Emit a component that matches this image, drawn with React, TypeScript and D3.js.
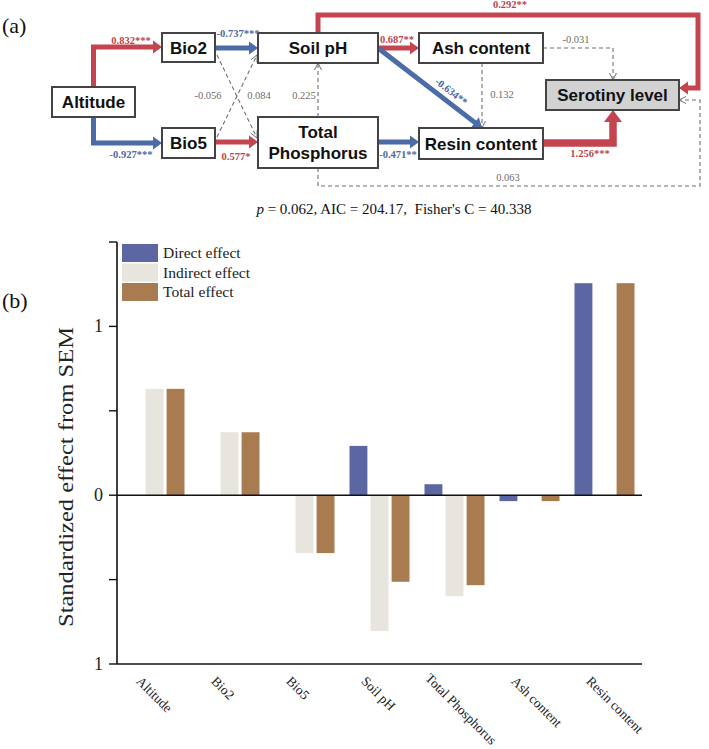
import React from 'react';
import * as d3 from 'd3';

// ---- panel (b) data ----
const categories = ['Altitude', 'Bio2', 'Bio5', 'Soil pH', 'Total Phosphorus', 'Ash content', 'Resin content'];
const directEffect = [0, 0, 0, 0.292, 0.065, -0.035, 1.256];
const indirectEffect = [0.63, 0.373, -0.343, -0.805, -0.598, 0, 0];
const totalEffect = [0.63, 0.373, -0.343, -0.513, -0.533, -0.035, 1.256];
const seriesNames = ['Direct effect', 'Indirect effect', 'Total effect'];
const yTickValues = [-1, -0.5, 0, 0.5, 1, 1.5];
const yTickLabels = ['1', '', '0', '', '1', ''];

// ---- panel (a) data: SEM paths ----
const pathFrom = ['Altitude', 'Altitude', 'Bio2', 'Bio5', 'Bio2', 'Bio5', 'Total Phosphorus', 'Total Phosphorus', 'Soil pH', 'Soil pH', 'Soil pH', 'Ash content', 'Ash content', 'Total Phosphorus', 'Resin content'];
const pathTo = ['Bio2', 'Bio5', 'Soil pH', 'Total Phosphorus', 'Total Phosphorus', 'Soil pH', 'Soil pH', 'Serotiny level', 'Serotiny level', 'Ash content', 'Resin content', 'Resin content', 'Serotiny level', 'Resin content', 'Serotiny level'];
const pathCoef = [0.832, -0.927, -0.737, 0.577, -0.056, 0.084, 0.225, 0.063, 0.292, 0.687, -0.634, 0.132, -0.031, -0.471, 1.256];
const pathSig = ['***', '***', '***', '*', '', '', '', '', '**', '**', '**', '', '', '**', '***'];

const RED = '#c4454f';
const BLUE = '#4b6ca7';
const GRAY = '#6e6e6e';
const RED_TXT = '#b9464f';
const BLUE_TXT = '#4d6aa0';
const seriesColors = ['#5b66a3', '#e8e4de', '#a97b50'];
const SERIF = 'Liberation Serif, Times New Roman, serif';

// node layout for the path diagram
const NODES: Record<string, { x: number; y: number; w: number; h: number; lines: string[]; fill?: string }> = {
  'Altitude': { x: 52, y: 87, w: 83, h: 30, lines: ['Altitude'] },
  'Bio2': { x: 162, y: 33, w: 53, h: 29, lines: ['Bio2'] },
  'Bio5': { x: 162, y: 128, w: 53, h: 30, lines: ['Bio5'] },
  'Soil pH': { x: 258, y: 33, w: 120, h: 30, lines: ['Soil pH'] },
  'Total Phosphorus': { x: 258, y: 117, w: 120, h: 51, lines: ['Total', 'Phosphorus'] },
  'Ash content': { x: 419, y: 33, w: 124, h: 30, lines: ['Ash content'] },
  'Resin content': { x: 419, y: 128, w: 124, h: 31, lines: ['Resin content'] },
  'Serotiny level': { x: 546, y: 80, w: 133, h: 30, lines: ['Serotiny level'], fill: '#d2d2d2' },
};

type P = [number, number];

const route = (from: string, to: string): P[] => {
  const a = NODES[from], b = NODES[to];
  const acx = a.x + a.w / 2;
  switch (`${from}>${to}`) {
    case 'Altitude>Bio2': return [[acx, a.y], [acx, 47], [b.x, 47]];
    case 'Altitude>Bio5': return [[acx, a.y + a.h], [acx, 143], [b.x, 143]];
    case 'Bio2>Soil pH': return [[a.x + a.w, 48], [b.x, 48]];
    case 'Bio5>Total Phosphorus': return [[a.x + a.w, 142], [b.x, 142]];
    case 'Bio2>Total Phosphorus': return [[a.x + a.w + 2, a.y + a.h - 7], [b.x - 1, 138]];
    case 'Bio5>Soil pH': return [[a.x + a.w + 2, a.y + 9], [b.x - 1, b.y + b.h - 8]];
    case 'Total Phosphorus>Soil pH': return [[318, a.y], [318, b.y + b.h]];
    case 'Total Phosphorus>Serotiny level': return [[318, a.y + a.h], [318, 186], [700, 186], [700, 100], [b.x + b.w, 100]];
    case 'Soil pH>Serotiny level': return [[318, a.y], [318, 15], [698, 15], [698, 88], [b.x + b.w, 88]];
    case 'Soil pH>Ash content': return [[a.x + a.w, 48], [b.x, 48]];
    case 'Soil pH>Resin content': return [[a.x + a.w, 48], [482, b.y]];
    case 'Ash content>Resin content': return [[482, a.y + a.h], [482, b.y]];
    case 'Ash content>Serotiny level': return [[a.x + a.w, 48], [613, 48], [613, b.y]];
    case 'Total Phosphorus>Resin content': return [[a.x + a.w, 142], [b.x, 142]];
    case 'Resin content>Serotiny level': return [[a.x + a.w, 143], [613, 143], [613, b.y + b.h]];
    default: return [];
  }
};

// label placement: [x, y, rotation]
const LABEL_POS: Record<string, [number, number, number]> = {
  'Altitude>Bio2': [131, 44, 0],
  'Altitude>Bio5': [131, 158, 0],
  'Bio2>Soil pH': [238, 37, 0],
  'Bio5>Total Phosphorus': [236, 160, 0],
  'Bio2>Total Phosphorus': [208, 99, 0],
  'Bio5>Soil pH': [259, 99, 0],
  'Total Phosphorus>Soil pH': [304, 99, 0],
  'Total Phosphorus>Serotiny level': [508, 181, 0],
  'Soil pH>Serotiny level': [510, 8, 0],
  'Soil pH>Ash content': [397, 43, 0],
  'Soil pH>Resin content': [451, 95, 38],
  'Ash content>Resin content': [502, 98, 0],
  'Ash content>Serotiny level': [576, 43, 0],
  'Total Phosphorus>Resin content': [398, 158, 0],
  'Resin content>Serotiny level': [590, 157, 0],
};

// the long x label sits a bit further left/up in the original
const XLABEL_SHIFT: Record<string, number> = { 'Total Phosphorus': -11 };

const Arrow = ({ pts, color, width, dashed }: { pts: P[]; color: string; width: number; dashed: boolean }) => {
  const n = pts.length;
  const [x1, y1] = pts[n - 2];
  const [x2, y2] = pts[n - 1];
  const len = Math.hypot(x2 - x1, y2 - y1);
  const ux = (x2 - x1) / len, uy = (y2 - y1) / len;
  const hl = dashed ? 7 : width > 6 ? 12 : 9;
  const hw = dashed ? 3.5 : width > 6 ? 9 : 6.5;
  const bx = x2 - ux * hl, by = y2 - uy * hl;
  const line = d3.line()(dashed ? pts : [...pts.slice(0, n - 1), [bx + ux * 1, by + uy * 1]]) || '';
  const left: P = [bx - uy * hw, by + ux * hw];
  const right: P = [bx + uy * hw, by - ux * hw];
  return (
    <g>
      <path d={line} fill="none" stroke={color} strokeWidth={width} strokeDasharray={dashed ? '4,3' : undefined} strokeLinejoin="miter" />
      {dashed ? (
        <path d={`M${left[0]},${left[1]}L${x2},${y2}L${right[0]},${right[1]}`} fill="none" stroke={color} strokeWidth={1} />
      ) : (
        <path d={`M${left[0]},${left[1]}L${x2},${y2}L${right[0]},${right[1]}Z`} fill={color} />
      )}
    </g>
  );
};

const PathDiagram = () => (
  <g>
    {pathFrom.map((f, i) => {
      const t = pathTo[i];
      const c = pathCoef[i];
      const sig = pathSig[i] !== '';
      const color = !sig ? GRAY : c > 0 ? RED : BLUE;
      const width = !sig ? 1.1 : Math.abs(c) > 1 ? 7.5 : 5;
      return <Arrow key={`a${i}`} pts={route(f, t)} color={color} width={width} dashed={!sig} />;
    })}
    {Object.entries(NODES).map(([k, n]) => (
      <g key={k}>
        <rect x={n.x} y={n.y} width={n.w} height={n.h} fill={n.fill || '#fff'} stroke="#444" strokeWidth={2} />
        {n.lines.map((ln, j) => (
          <text key={j} x={n.x + n.w / 2} y={n.y + n.h / 2 + 6 + (j - (n.lines.length - 1) / 2) * 21}
            textAnchor="middle" fontFamily="Liberation Sans, Arial, sans-serif" fontWeight="bold" fontSize={17} fill="#111">
            {ln}
          </text>
        ))}
      </g>
    ))}
    {pathFrom.map((f, i) => {
      const key = `${f}>${pathTo[i]}`;
      const [lx, ly, rot] = LABEL_POS[key];
      const c = pathCoef[i];
      const sig = pathSig[i] !== '';
      const color = !sig ? GRAY : c > 0 ? RED_TXT : BLUE_TXT;
      return (
        <text key={`l${i}`} x={lx} y={ly} textAnchor="middle" fontFamily={SERIF}
          fontSize={10.5} fontWeight={sig ? 'bold' : 'normal'} fill={color}
          transform={rot ? `rotate(${rot},${lx},${ly - 3})` : undefined}>
          {c.toFixed(3) + pathSig[i]}
        </text>
      );
    })}
  </g>
);

const BarPanel = () => {
  const left = 117, right = 642, top = 242, bottom = 664;
  const x = d3.scaleBand<string>().domain(categories).range([left, right]).paddingInner(0.2).paddingOuter(0.1);
  const xs = d3.scaleBand<string>().domain(seriesNames).range([0, x.bandwidth()]).paddingInner(0.15);
  const y = d3.scaleLinear().domain([-1, 1.5]).range([bottom, top]);
  const series = [directEffect, indirectEffect, totalEffect];
  return (
    <g>
      {series.map((vals, si) =>
        vals.map((v, ci) => v === 0 ? null : (
          <rect key={`${si}-${ci}`} x={(x(categories[ci]) || 0) + (xs(seriesNames[si]) || 0)} y={Math.min(y(v), y(0))}
            width={xs.bandwidth()} height={Math.abs(y(v) - y(0))} fill={seriesColors[si]} />
        ))
      )}
      {/* zero line and bottom line */}
      <line x1={left} x2={right} y1={y(0)} y2={y(0)} stroke="#111" strokeWidth={1.6} />
      <line x1={left} x2={right} y1={bottom} y2={bottom} stroke="#111" strokeWidth={1.6} />
      {/* y axis */}
      <line x1={left} x2={left} y1={top} y2={bottom} stroke="#111" strokeWidth={1.6} />
      {yTickValues.map((t, i) => (
        <g key={t}>
          <line x1={left - 8} x2={left} y1={y(t)} y2={y(t)} stroke="#111" strokeWidth={1.4} />
          <text x={103} y={y(t) + 6} textAnchor="end" fontFamily={SERIF} fontSize={18} fill="#222">
            {yTickLabels[i]}
          </text>
        </g>
      ))}
      <text transform={`translate(73,477) rotate(-90)`} textAnchor="middle"
        fontFamily={SERIF} fontSize={21} fill="#222" textLength={300} lengthAdjust="spacingAndGlyphs">
        Standardized effect from SEM
      </text>
      {categories.map(c => {
        const cx = (x(c) || 0) + x.bandwidth() / 2 - 19 + (XLABEL_SHIFT[c] || 0);
        const cy = bottom + 18 + (XLABEL_SHIFT[c] ? -3 : 0);
        return (
          <text key={c} transform={`translate(${cx},${cy}) rotate(45)`} fontFamily={SERIF}
            fontSize={13.5} fill="#222">
            {c}
          </text>
        );
      })}
      {/* legend */}
      {seriesNames.map((s, i) => (
        <g key={s} transform={`translate(122,${244 + i * 19.5})`}>
          <rect width={36} height={18} fill={seriesColors[i]} />
          <text x={41} y={14} fontFamily={SERIF} fontSize={15.5} fill="#222">{s}</text>
        </g>
      ))}
    </g>
  );
};

export default function App() {
  return (
    <div style={{ position: 'absolute', left: 0, top: 0 }}>
      <svg width={709} height={749} style={{ display: 'block', background: '#fff' }}>
        <text x={2} y={33} fontFamily={SERIF} fontSize={22} fill="#111">(a)</text>
        <text x={2} y={308} fontFamily={SERIF} fontSize={22} fill="#111">(b)</text>
        <PathDiagram />
        <text x={394} y={214} textAnchor="middle" fontFamily={SERIF} fontSize={15} fill="#111">
          <tspan fontStyle="italic">p</tspan> = 0.062, AIC = 204.17,{'\u00a0\u00a0'}Fisher's C = 40.338
        </text>
        <BarPanel />
      </svg>
    </div>
  );
}
